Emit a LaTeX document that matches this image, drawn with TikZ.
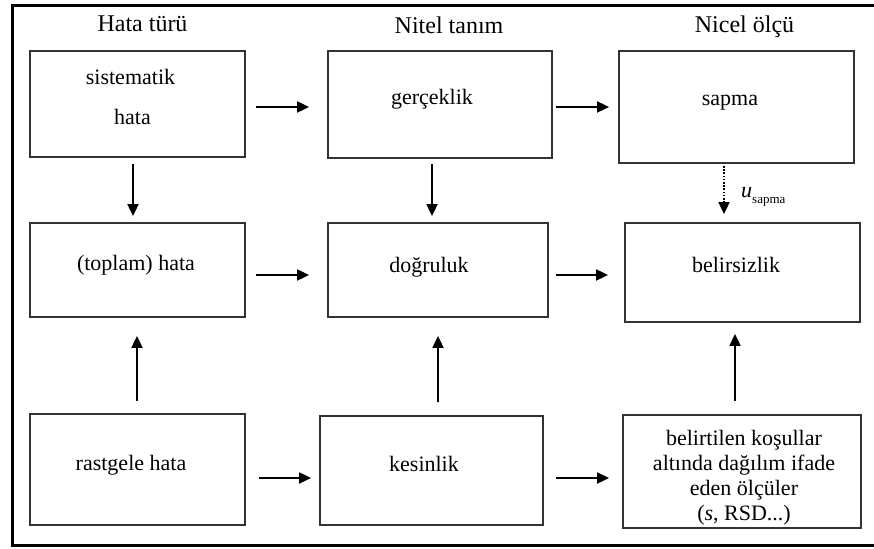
\documentclass[tikz,border=0pt]{standalone}
\usepackage{fontspec}
\setmainfont{Liberation Serif}
\usetikzlibrary{arrows.meta}
\tikzset{
  box/.style={draw=black!80, line width=1.8pt, rectangle, inner sep=0pt},
  txt/.style={font=\fontsize{22}{25}\selectfont, anchor=base, align=center, inner sep=0pt},
  head/.style={font=\fontsize{24}{28}\selectfont, anchor=base, inner sep=0pt},
  arr/.style={line width=1.8pt, -{Triangle[length=12pt,width=11pt]}},
  darr/.style={arr, dash pattern=on 1.6pt off 1.6pt},
}
\begin{document}
\begin{tikzpicture}[x=1pt,y=-1pt]
\useasboundingbox (0,0) rectangle (874,548);
\draw[line width=3pt] (878,6) -- (12,6) -- (12,545) -- (878,545);

% headers
\node[head] (h1) at (142.5,32) {Hata türü};
\node[head] (h2) at (449,34) {Nitel tanım};
\node[head] (h3) at (744.5,33) {Nicel ölçü};

% boxes
\node[box, minimum width=215pt, minimum height=106pt] (A) at (137.5,104) {};
\node[box, minimum width=224pt, minimum height=107pt] (B) at (440,104.5) {};
\node[box, minimum width=235pt, minimum height=112pt] (C) at (736.5,107) {};
\node[box, minimum width=215pt, minimum height=94pt] (D) at (137.5,270) {};
\node[box, minimum width=220pt, minimum height=94pt] (E) at (438,270) {};
\node[box, minimum width=235pt, minimum height=99pt] (F) at (742.5,272.5) {};
\node[box, minimum width=215pt, minimum height=111pt] (G) at (137.5,469.5) {};
\node[box, minimum width=223pt, minimum height=109pt] (H) at (431.5,470.5) {};
\node[box, minimum width=238pt, minimum height=113pt] (I) at (742,471.5) {};

% texts
\node[txt] (tA1) at (130.5,85) {sistematik};
\node[txt] (tA2) at (132.5,125) {hata};
\node[txt] (tB) at (432,105) {gerçeklik};
\node[txt] (tC) at (730,106) {sapma};
\node[txt] (tD) at (136,270) {(toplam) hata};
\node[txt] (tE) at (429,272) {doğruluk};
\node[txt] (tF) at (736,272) {belirsizlik};
\node[txt] (tG) at (131,470) {rastgele hata};
\node[txt] (tH) at (424,471) {kesinlik};
\node[txt] (tI1) at (744,445) {belirtilen koşullar};
\node[txt] (tI2) at (744,470) {altında dağılım ifade};
\node[txt] (tI3) at (744,495) {eden ölçüler};
\node[txt] (tI4) at (744,520) {(\textit{s}, RSD...)};
\node[anchor=base west, inner sep=0pt, font=\fontsize{22}{25}\selectfont] (us) at (741,197)
  {\textit{u}\raisebox{-6pt}{\fontsize{13}{13}\selectfont sapma}};

% level coordinates
\coordinate (r1) at (0,107);
\coordinate (r2) at (0,275);
\coordinate (r3) at (0,478);
\coordinate (c1) at (133,0);
\coordinate (c2) at (432,0);
\coordinate (c3) at (724,0);
\coordinate (c4) at (137,0);
\coordinate (c5) at (438,0);
\coordinate (c6) at (735,0);

% horizontal arrows
\draw[arr, shorten <=10pt, shorten >=18pt] (A.east |- r1) -- (B.west |- r1);
\draw[arr, shorten <=3pt, shorten >=9pt] (B.east |- r1) -- (C.west |- r1);
\draw[arr, shorten <=10pt, shorten >=18pt] (D.east |- r2) -- (E.west |- r2);
\draw[arr, shorten <=7pt, shorten >=16pt] (E.east |- r2) -- (F.west |- r2);
\draw[arr, shorten <=13pt, shorten >=8pt] (G.east |- r3) -- (H.west |- r3);
\draw[arr, shorten <=12pt, shorten >=13pt] (H.east |- r3) -- (I.west |- r3);

% vertical arrows
\draw[arr, shorten <=6pt, shorten >=6pt] (A.south -| c1) -- (D.north -| c1);
\draw[arr, shorten <=5pt, shorten >=6pt] (B.south -| c2) -- (E.north -| c2);
\draw[darr, shorten <=2pt, shorten >=8pt] (C.south -| c3) -- (F.north -| c3);
\draw[arr, shorten <=12pt, shorten >=18pt] (G.north -| c4) -- (D.south -| c4);
\draw[arr, shorten <=13pt, shorten >=18pt] (H.north -| c5) -- (E.south -| c5);
\draw[arr, shorten <=13pt, shorten >=11pt] (I.north -| c6) -- (F.south -| c6);
\end{tikzpicture}
\end{document}
